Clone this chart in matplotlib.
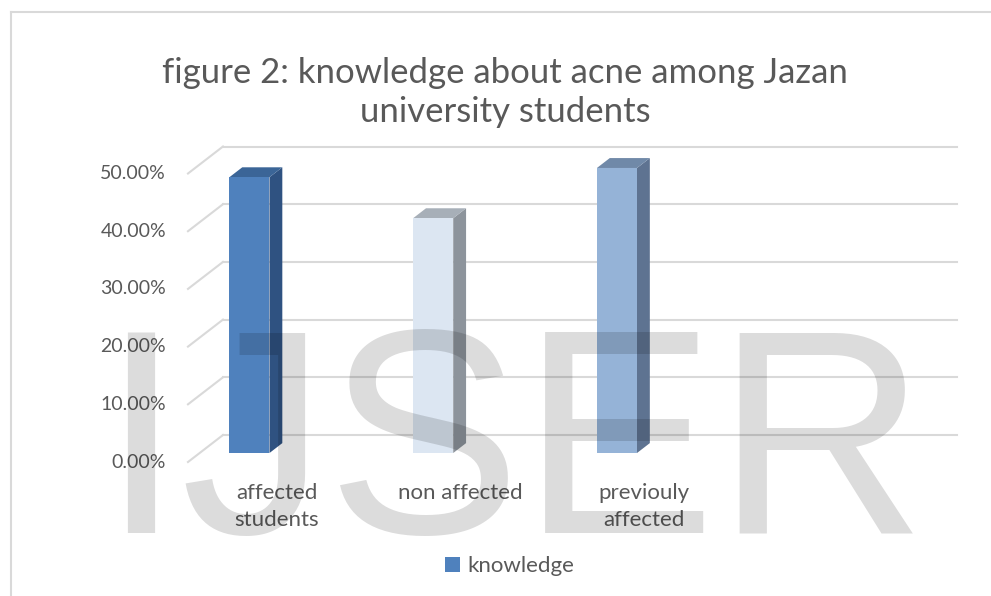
import matplotlib
matplotlib.use('Agg')
import matplotlib.pyplot as plt
from matplotlib.patches import Polygon, Patch
from matplotlib.lines import Line2D

# data
categories = ['affected\nstudents', 'non affected', 'previouly\naffected']
values = [47.8, 40.7, 49.4]   # percent
yticks = [0, 10, 20, 30, 40, 50]
series_name = 'knowledge'
title = 'figure 2: knowledge about acne among Jazan\nuniversity students'

front_colors = ['#4F81BD', '#DCE6F2', '#95B3D7']
side_colors = ['#2F5281', '#8D949C', '#5E7391']
top_colors = ['#3B6597', '#A7AFB8', '#7089A8']

text_col = '#595959'
grid_col = '#D9D9D9'
font = 'Lato'

# pseudo 3d layout (data units)
DX, DY = 0.1905, 4.68      # shift for full depth
D_FRONT, D_BACK = 0.333, 0.70
BAR_W = 0.218
WALL_L, WALL_R = -0.271, 3.722

fig = plt.figure(figsize=(9.91, 5.96), dpi=100)
ax = fig.add_axes([0, 0, 1, 1])
ax.set_xlim(-1.294, 4.099)
ax.set_ylim(-23.22, 80.07)
ax.axis('off')

# back wall grid + left side diagonals, tick labels
for t in yticks:
    ax.plot([WALL_L + DX, WALL_R + DX], [t + DY, t + DY], color=grid_col, lw=1.5, zorder=1)
    ax.plot([WALL_L, WALL_L + DX], [t, t + DY], color=grid_col, lw=1.5, zorder=1)
    ax.text(WALL_L - 0.12, t, '%.2f%%' % t, ha='right', va='center',
            fontsize=14, color=text_col, family=font)

# bars
for i, v in enumerate(values):
    xl, xr = i - BAR_W / 2, i + BAR_W / 2
    f0, f1 = D_FRONT, D_BACK
    front = [(xl + f0 * DX, f0 * DY), (xr + f0 * DX, f0 * DY),
             (xr + f0 * DX, v + f0 * DY), (xl + f0 * DX, v + f0 * DY)]
    side = [(xr + f0 * DX, f0 * DY), (xr + f1 * DX, f1 * DY),
            (xr + f1 * DX, v + f1 * DY), (xr + f0 * DX, v + f0 * DY)]
    top = [(xl + f0 * DX, v + f0 * DY), (xr + f0 * DX, v + f0 * DY),
           (xr + f1 * DX, v + f1 * DY), (xl + f1 * DX, v + f1 * DY)]
    ax.add_patch(Polygon(side, closed=True, fc=side_colors[i], ec='none', zorder=3))
    ax.add_patch(Polygon(top, closed=True, fc=top_colors[i], ec='none', zorder=3))
    ax.add_patch(Polygon(front, closed=True, fc=front_colors[i], ec='none', zorder=4))
    ax.text(i + 0.213, -3.7, categories[i], ha='center', va='top', fontsize=16,
            color=text_col, family=font, linespacing=1.4)

fig.text(0.51, 0.845, title, ha='center', va='center', fontsize=25,
         color=text_col, family=font, linespacing=1.25)

fig.legend(handles=[Patch(fc=front_colors[0], ec='none', label=series_name)],
           loc='center', bbox_to_anchor=(0.514, 0.05), frameon=False,
           handlelength=0.7, handleheight=0.7, handletextpad=0.3,
           prop={'family': font, 'size': 16}, labelcolor=text_col)

# chart border (cropped)
fig.add_artist(Line2D([11 / 991, 11 / 991], [0, 1 - 12 / 596], color=grid_col, lw=1.5))
fig.add_artist(Line2D([11 / 991, 1], [1 - 12 / 596, 1 - 12 / 596], color=grid_col, lw=1.5))

# watermark
fig.text(100 / 991, 1 - 533 / 596, 'IJSER', ha='left', va='baseline', fontsize=210,
         family='Liberation Sans', color='black', alpha=0.137, zorder=10)

fig.savefig('out.png', dpi=100)
